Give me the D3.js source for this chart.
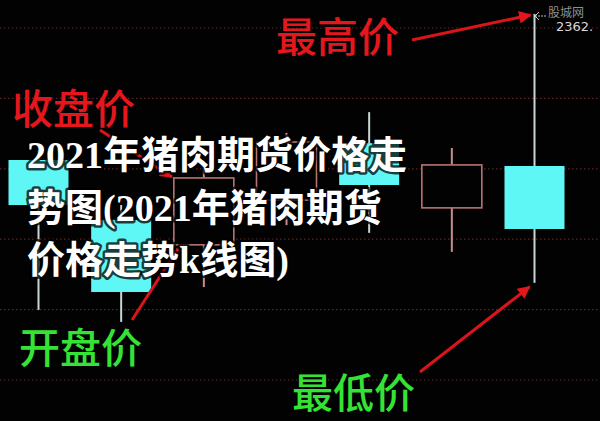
<!DOCTYPE html>
<html><head><meta charset="utf-8">
<script src="https://cdn.jsdelivr.net/npm/d3@7"></script>
<style>
html,body{margin:0;padding:0;background:#000;}
svg{display:block;}
</style></head>
<body>
<script>
// ---- data ----
const categories = ["K1","K2","K3","K4","K5","K6","K7"];
const openVals  = [2320.5, 2303.5, 2296.4, 2309.1, 2325.3, 2306.9, 2318.8];
const closeVals = [2307.7, 2283.0, 2315.4, 2325.6, 2313.4, 2319.1, 2300.9];
const highVals  = [2323.3, 2307.7, 2319.1, 2328.2, 2334.1, 2323.9, 2362.0];
const lowVals   = [2277.9, 2274.5, 2284.4, 2302.0, 2299.8, 2294.4, 2285.6];
const gridVals  = [2358, 2338, 2318, 2298, 2278, 2258];
const labelTexts = ["最高价", "收盘价", "开盘价", "最低价"];
const titleLines = ["2021年猪肉期货价格走", "势图(2021年猪肉期货", "价格走势k线图)"];
const watermark = "股城网";
const maxLabel = "2362.";

const W = 600, H = 421;
const svg = d3.select("body").append("svg").attr("width", W).attr("height", H);
svg.append("rect").attr("width", W).attr("height", H).attr("fill", "#020202");

const defs = svg.append("defs");
defs.append("marker").attr("id","ah").attr("viewBox","0 0 10 10")
  .attr("refX",9).attr("refY",5).attr("markerWidth",5).attr("markerHeight",4.2)
  .attr("orient","auto").attr("markerUnits","strokeWidth")
  .append("path").attr("d","M0,0L10,5L0,10Z").attr("fill","#e3161c");

const x = d3.scalePoint().domain(categories).range([38.5, 534.5]);
const y = d3.scaleLinear().domain([2258, 2358]).range([380, 28]);
const bw = 60;

// grid
svg.append("g").selectAll("line").data(gridVals).join("line")
  .attr("x1", 0).attr("x2", W)
  .attr("y1", d => y(d)).attr("y2", d => y(d))
  .attr("stroke", "#5a2626").attr("stroke-width", 1.2).attr("stroke-dasharray", "1.5,2.5");

const data = categories.map((c, i) => ({c, o: openVals[i], cl: closeVals[i], h: highVals[i], l: lowVals[i]}));
const up = d => d.cl >= d.o;
const g = svg.append("g");
// upper wicks
g.selectAll("line.wu").data(data).join("line").attr("class","wu")
  .attr("x1", d => x(d.c)).attr("x2", d => x(d.c))
  .attr("y1", d => y(d.h)).attr("y2", d => y(Math.max(d.o, d.cl)))
  .attr("stroke", d => up(d) ? "#c78c8c" : "#c8d6d6").attr("stroke-width", 2);
// lower wicks
g.selectAll("line.wl").data(data).join("line").attr("class","wl")
  .attr("x1", d => x(d.c)).attr("x2", d => x(d.c))
  .attr("y1", d => y(Math.min(d.o, d.cl))).attr("y2", d => y(d.l))
  .attr("stroke", d => up(d) ? "#c78c8c" : "#c8d6d6").attr("stroke-width", 2);
// bodies
g.selectAll("rect.b").data(data).join("rect").attr("class","b")
  .attr("x", d => x(d.c) - bw/2)
  .attr("y", d => y(Math.max(d.o, d.cl)))
  .attr("width", bw)
  .attr("height", d => Math.abs(y(d.o) - y(d.cl)))
  .attr("fill", d => up(d) ? "#020202" : "#5ef7f5")
  .attr("stroke", d => up(d) ? "#b77474" : "none")
  .attr("stroke-width", 1.6);

// annotation arrows
const k3 = data[2], k7 = data[6];
const arrows = [
  {from: [412, 40], to: [x(k7.c) - 4, y(k7.h) + 1]},
  {from: [100, 130], to: [x(k3.c) - bw/2 - 2, y(k3.cl) - 1]},
  {from: [132, 320], to: [x(k3.c) - bw/2 + 4, y(k3.o) + 4]},
  {from: [420, 372], to: [x(k7.c) - 5, y(k7.l) + 4]}
];
svg.append("g").selectAll("line").data(arrows).join("line")
  .attr("x1", d => d.from[0]).attr("y1", d => d.from[1])
  .attr("x2", d => d.to[0]).attr("y2", d => d.to[1])
  .attr("stroke", "#d9141a").attr("stroke-width", 3).attr("marker-end", "url(#ah)");

// labels
const labelPos = [
  {x: 276, y: 34, c: "#e5171d"},
  {x: 12, y: 106, c: "#e5171d"},
  {x: 19, y: 345, c: "#35e335"},
  {x: 292, y: 390, c: "#35e335"}
];
svg.append("g").selectAll("text").data(labelTexts).join("text")
  .attr("x", (d, i) => labelPos[i].x).attr("y", (d, i) => labelPos[i].y)
  .attr("dominant-baseline", "central")
  .attr("font-family", "'Noto Sans CJK SC', sans-serif").attr("font-size", 41).attr("font-weight", 500)
  .attr("fill", (d, i) => labelPos[i].c)
  .text(d => d);

// watermark
svg.append("line").attr("x1", 546).attr("x2", 535).attr("y1", 16).attr("y2", 16)
  .attr("stroke", "#bbb").attr("stroke-width", 1).attr("stroke-dasharray", "2,1");
svg.append("path").attr("d", "M539,12L535,16L539,20").attr("fill", "none").attr("stroke", "#ccc").attr("stroke-width", 1);
svg.append("text").attr("x", 548).attr("y", 17).attr("font-family", "'Noto Sans CJK SC', sans-serif")
  .attr("font-size", 12).attr("fill", "#8f8f8f").text(watermark);
svg.append("text").attr("x", 556).attr("y", 31).attr("font-family", "'DejaVu Sans', sans-serif")
  .attr("font-size", 13).attr("fill", "#d8d8d8").text(maxLabel);

// title overlay
const baselines = [168, 221, 273];
svg.append("g").selectAll("text").data(titleLines).join("text")
  .attr("x", 27).attr("y", (d, i) => baselines[i])
  .attr("font-family", "'Liberation Serif', 'Noto Sans CJK SC', serif")
  .attr("font-size", 38).attr("font-weight", 700)
  .attr("fill", "#ffffff")
  .attr("stroke", "rgba(0,0,0,0.75)").attr("stroke-width", 5).attr("stroke-linejoin", "round")
  .style("paint-order", "stroke")
  .text(d => d);
</script>
</body></html>
